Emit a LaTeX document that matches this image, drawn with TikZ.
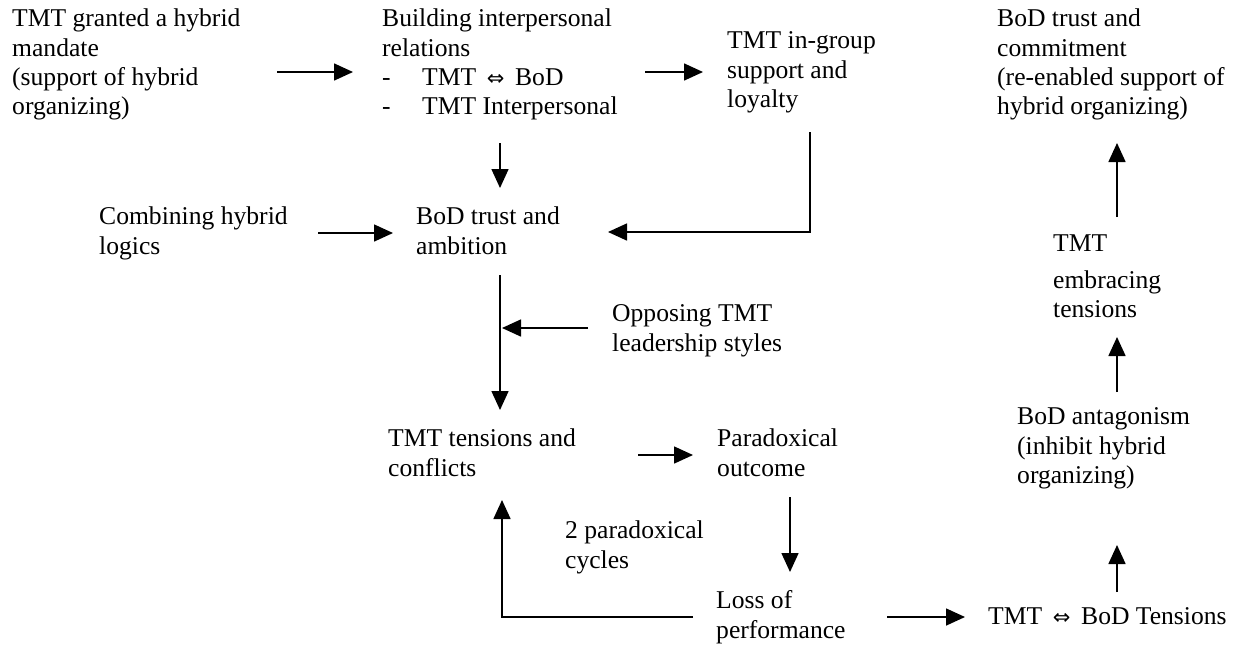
\documentclass[tikz,border=0pt]{standalone}
\usepackage{fontspec}
\setmainfont{Liberation Serif}
\newfontfamily\arrowfont{DejaVu Sans}
\usetikzlibrary{arrows.meta}

\newcommand{\dblarrow}{\,{\arrowfont\fontsize{21}{21}\selectfont ⇔}\,}
\newcommand{\itemdash}{\makebox[40pt][l]{-}}

\begin{document}
\begin{tikzpicture}[x=1pt, y=1pt,
    txt/.style={align=left, anchor=north west, inner sep=0pt, font=\fontsize{25.6}{29.4}\selectfont},
    arr/.style={line width=1.6pt, -{Triangle[length=19pt,width=17pt]}}]

    \useasboundingbox (0,0) rectangle (1239,-646);

    % top row
    \node[txt] (grant) at (12,-6) {\strut TMT granted a hybrid\\mandate\\(support of hybrid\\organizing)};
    \node[txt] (build) at (382,-6) {\strut Building interpersonal\\relations\\\itemdash TMT \dblarrow{} BoD\\\itemdash TMT Interpersonal};
    \node[txt] (ingroup) at (727,-28) {\strut TMT in-group\\support and\\loyalty};
    \node[txt] (commit) at (997,-6) {\strut BoD trust and\\commitment\\(re-enabled support of\\hybrid organizing)};

    % middle
    \node[txt] (combine) at (99,-204) {\strut Combining hybrid\\logics};
    \node[txt] (ambition) at (416,-204) {\strut BoD trust and\\ambition};
    \node[txt] (opposing) at (612,-301) {\strut Opposing TMT\\leadership styles};
    \node[txt] (embrace) at (1053,-231) {\strut TMT\\[7pt]embracing\\tensions};
    \node[txt] (antag) at (1017,-404) {\strut BoD antagonism\\(inhibit hybrid\\organizing)};

    % bottom
    \node[txt] (tensions) at (388,-426) {\strut TMT tensions and\\conflicts};
    \node[txt] (paradox) at (717,-426) {\strut Paradoxical\\outcome};
    \node[txt] (cycles) at (565,-518) {\strut 2 paradoxical\\cycles};
    \node[txt] (loss) at (716,-588) {\strut Loss of\\performance};
    \node[txt] (bodtens) at (988,-604) {\strut TMT \dblarrow{} BoD Tensions};

    \draw[arr] ([shift={(265,-66)}]grant.north west) -- ([shift={(-29,-66)}]build.north west);
    \draw[arr] ([shift={(263,-66)}]build.north west) -- ([shift={(-24,-44)}]ingroup.north west);
    \draw[arr] ([shift={(118,-137)}]build.north west) -- ([shift={(84,16)}]ambition.north west);
    \draw[arr] ([shift={(83,-104)}]ingroup.north west) |- ([shift={(192,-28)}]ambition.north west);
    \draw[arr] ([shift={(219,-29)}]combine.north west) -- ([shift={(-23,-29)}]ambition.north west);
    \draw[arr] ([shift={(84,-71)}]ambition.north west) -- ([shift={(112,16)}]tensions.north west);
    \draw[arr] ([shift={(-24,-27)}]opposing.north west) -- ([shift={(86,-124)}]ambition.north west);
    \draw[arr] ([shift={(250,-29)}]tensions.north west) -- ([shift={(-24,-29)}]paradox.north west);
    \draw[arr] ([shift={(73,-71)}]paradox.north west) -- ([shift={(74,16)}]loss.north west);
    \draw[arr] ([shift={(-23,-29)}]loss.north west) -| ([shift={(114,-74)}]tensions.north west);
    \draw[arr] ([shift={(171,-29)}]loss.north west) -- ([shift={(-23,-13)}]bodtens.north west);
    \draw[arr] ([shift={(129,12)}]bodtens.north west) -- ([shift={(100,-141)}]antag.north west);
    \draw[arr] ([shift={(100,12)}]antag.north west) -- ([shift={(64,-106)}]embrace.north west);
    \draw[arr] ([shift={(64,14)}]embrace.north west) -- ([shift={(120,-137)}]commit.north west);

\end{tikzpicture}
\end{document}
